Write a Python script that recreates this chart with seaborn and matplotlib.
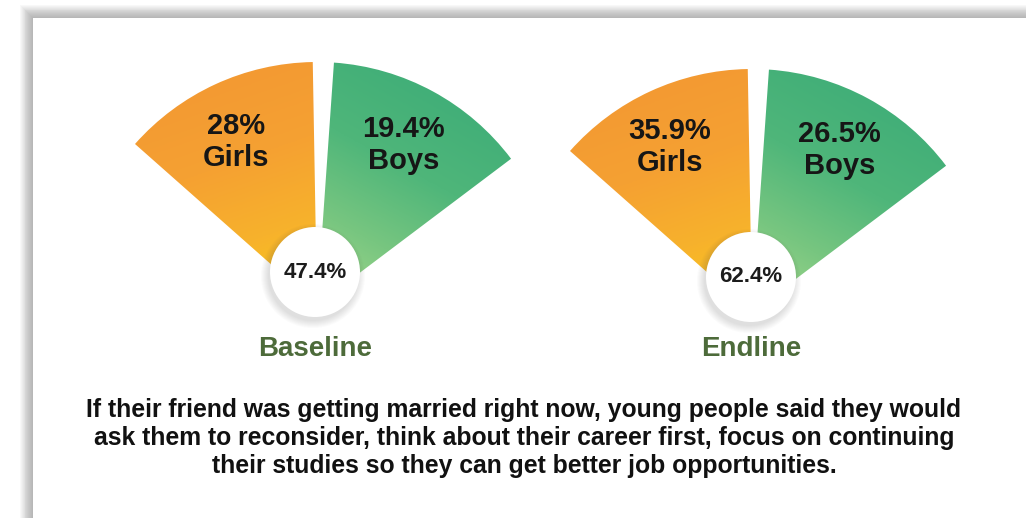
import numpy as np
import matplotlib
matplotlib.use("Agg")
import matplotlib.pyplot as plt
from matplotlib.patches import Wedge, Circle, Rectangle
import seaborn as sns

# ---- data ----
periods = ["Baseline", "Endline"]
girls_pct = [28.0, 35.9]
boys_pct = [19.4, 26.5]
total_pct = [47.4, 62.4]
group_labels = ["Girls", "Boys"]
caption_lines = [
    "If their friend was getting married right now, young people said they would",
    "ask them to reconsider, think about their career first, focus on continuing",
    "their studies so they can get better job opportunities.",
]

W, H = 1026, 518
sns.set_theme(style="white")
plt.rcParams["font.family"] = ["Liberation Sans", "DejaVu Sans"]

fig = plt.figure(figsize=(W / 100, H / 100), dpi=100)
fig.patch.set_facecolor("white")
ax = fig.add_axes([0, 0, 1, 1])
ax.axis("off")

# ---- layout (pixel units, y upward) ----
fan_apex = [(317, 213), (752, 206)]
hub_center = [(315, 246), (751, 241)]
fan_radius = 243
hub_radius = 45
spans = {"Girls": (91.0, 138.5), "Boys": (37.0, 86.0)}
label_angle = {"Girls": 116.5, "Boys": 61.5}
label_r = [182, 184]
period_label_y = 169
caption_y = [108, 80, 52]
caption_x = 524

orange_cmap = sns.blend_palette(["#FACD16", "#F7B22C", "#F5A132", "#F39A33"], as_cmap=True)
green_cmap = sns.blend_palette(["#A9DA8D", "#78C680", "#4FB67A", "#42AF78"], as_cmap=True)
grad_dir = {"Girls": (-0.35, 1.0), "Boys": (0.55, 1.0)}
cmaps = {"Girls": orange_cmap, "Boys": green_cmap}

# ---- card with soft shadow ----
card_x, card_top = 33, 500
for k in range(14):
    ax.add_patch(Rectangle((card_x - 13 + k * 0.9, -20), W + 40, card_top + 33 - k * 0.9,
                           facecolor="#6e6e6e", edgecolor="none", alpha=0.045, zorder=0))
ax.add_patch(Rectangle((card_x, -20), W + 40, card_top + 20,
                       facecolor="white", edgecolor="none", zorder=1))


def gradient_wedge(center, r, t1, t2, cmap, direction):
    wedge = Wedge(center, r, t1, t2, facecolor="none", edgecolor="none", zorder=2)
    ax.add_patch(wedge)
    cx, cy = center
    xs = np.linspace(cx - r, cx + r, 400)
    ys = np.linspace(cy, cy + r, 200)
    X, Y = np.meshgrid(xs, ys)
    ang = np.degrees(np.arctan2(Y - cy, X - cx))
    inside = (np.hypot(X - cx, Y - cy) <= r) & (ang >= t1) & (ang <= t2)
    dx, dy = direction
    proj = (X - cx) * dx + (Y - cy) * dy
    lo, hi = proj[inside].min(), proj[inside].max()
    t = np.clip((proj - lo) / (hi - lo), 0, 1)
    img = ax.imshow(t, extent=[cx - r, cx + r, cy, cy + r], origin="lower",
                    cmap=cmap, vmin=0, vmax=1, aspect="auto", zorder=2,
                    interpolation="bilinear")
    img.set_clip_path(wedge)


text_color = "#161616"
for i, period in enumerate(periods):
    ax_x, ax_y = fan_apex[i]
    values = {"Girls": girls_pct[i], "Boys": boys_pct[i]}
    for grp in group_labels:
        t1, t2 = spans[grp]
        gradient_wedge((ax_x, ax_y), fan_radius, t1, t2, cmaps[grp], grad_dir[grp])
        a = np.radians(label_angle[grp])
        lx = ax_x + label_r[i] * np.cos(a)
        ly = ax_y + label_r[i] * np.sin(a)
        ax.text(lx, ly + 16, f"{values[grp]:g}%", ha="center", va="center",
                fontsize=21, fontweight="bold", color=text_color, zorder=5)
        ax.text(lx, ly - 16, grp, ha="center", va="center",
                fontsize=21, fontweight="bold", color=text_color, zorder=5)

    # hub circle with soft shadow
    hx, hy = hub_center[i]
    for k in range(8):
        ax.add_patch(Circle((hx - 2, hy - 4), hub_radius + 7 - k, facecolor="#555555",
                            edgecolor="none", alpha=0.025, zorder=3))
    ax.add_patch(Circle((hx, hy), hub_radius, facecolor="white", edgecolor="none", zorder=4))
    ax.text(hx, hy, f"{total_pct[i]:g}%", ha="center", va="center",
            fontsize=16, fontweight="bold", color="#1c1c1c", zorder=5)

    ax.text(hx, period_label_y, period, ha="center", va="center",
            fontsize=20, fontweight="bold", color="#4D6B3A", zorder=5)

for y, line in zip(caption_y, caption_lines):
    ax.text(caption_x, y, line, ha="center", va="center", fontsize=17.8,
            fontweight="bold", color="#111111", zorder=5)

ax.set_xlim(0, W)
ax.set_ylim(0, H)
fig.savefig("out.png", dpi=100, facecolor="white")
